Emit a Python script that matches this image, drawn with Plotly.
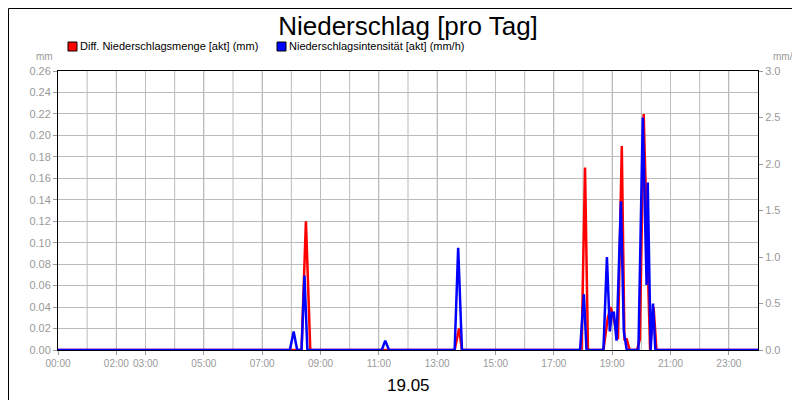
import plotly.graph_objects as go

# red series: Diff. Niederschlagsmenge (mm), hours of day
red_t = [0, 8.35, 8.5, 8.65, 13.6, 13.75, 13.85, 17.95, 18.07, 18.17, 18.7, 18.85, 18.95, 19.05,
         19.12, 19.2, 19.33, 19.42, 19.5, 19.6, 19.85, 19.95, 20.08, 20.3, 20.42, 20.52, 24]
red_v = [0, 0, 0.12, 0, 0, 0.02, 0, 0, 0.17, 0, 0, 0.03, 0.04, 0.03,
         0.02, 0.01, 0.19, 0.01, 0.01, 0, 0, 0.01, 0.22, 0, 0.04, 0, 0]
# blue series: Niederschlagsintensität (mm/h)
blue_t = [0, 7.95, 8.08, 8.2, 8.35, 8.45, 8.55, 11.1, 11.22, 11.35, 13.6, 13.72, 13.85, 17.9, 18.03,
          18.12, 18.7, 18.82, 18.92, 18.99, 19.06, 19.15, 19.3, 19.4, 19.5, 19.9, 20.05, 20.18,
          20.22, 20.32, 20.4, 20.48, 24]
blue_v = [0, 0, 0.2, 0, 0, 0.8, 0, 0, 0.1, 0, 0, 1.1, 0, 0, 0.6,
          0, 0, 1.0, 0.2, 0.4, 0.4, 0.1, 1.6, 0.2, 0, 0, 2.5, 0.7,
          1.8, 0, 0.5, 0, 0]

tick_hours = [0, 2, 3, 5, 7, 9, 11, 13, 15, 17, 19, 21, 23]
tick_text = ["%02d:00" % h for h in tick_hours]

grey = "#999999"
W, H = 700, 279  # plot area in px
fig = go.Figure()
fig.add_trace(go.Scatter(x=blue_t, y=blue_v, yaxis="y2", mode="lines",
                         line=dict(color="#0000ff", width=2.5)))
fig.add_trace(go.Scatter(x=red_t, y=red_v, mode="lines",
                         line=dict(color="#ff0000", width=2.5)))

fig.update_layout(
    width=800, height=400,
    paper_bgcolor="white", plot_bgcolor="white",
    margin=dict(l=50, r=50, t=63, b=58, autoexpand=False),
    font=dict(family="Liberation Sans, Arial", size=11, color=grey),
    title=dict(text="Niederschlag [pro Tag]", x=0.5, y=0.955, yanchor="middle",
               font=dict(size=26, color="black")),
    showlegend=False,
    xaxis=dict(range=[0, 24], tickvals=tick_hours, ticktext=tick_text, tickangle=0,
               tickfont=dict(size=10),
               showgrid=True, gridcolor="#bbbbbb",
               linecolor="black", mirror=True, showline=True, ticks="outside",
               ticklen=4, tickcolor=grey, zeroline=False),
    yaxis=dict(range=[0, 0.26], dtick=0.02, tickformat=".2f", showgrid=True,
               gridcolor="#bbbbbb", linecolor="black", showline=True, mirror=True,
               ticks="outside", ticklen=4, tickcolor=grey, zeroline=False),
    yaxis2=dict(range=[0, 3.0], dtick=0.5, tickformat=".1f", overlaying="y", side="right",
                showgrid=False, ticks="outside", ticklen=4, tickcolor=grey, zeroline=False),
    shapes=[
        dict(type="rect", xref="paper", yref="paper", x0=-49.5 / W, x1=1 + 49.5 / W,
             y0=-57.5 / H, y1=1 + 62.5 / H, line=dict(color="black", width=1)),
        dict(type="rect", xref="paper", yref="paper", x0=10 / W, x1=19 / W,
             y0=1 + 20 / H, y1=1 + 29 / H, fillcolor="#ff0000", line=dict(color="black", width=1)),
        dict(type="rect", xref="paper", yref="paper", x0=219 / W, x1=228 / W,
             y0=1 + 20 / H, y1=1 + 29 / H, fillcolor="#0000ff", line=dict(color="black", width=1)),
    ],
    annotations=[
        dict(text="19.05", x=0.5, y=-36 / H, xref="paper", yref="paper", showarrow=False,
             yanchor="middle", font=dict(size=17, color="black")),
        dict(text="mm", x=-3 / W, y=1 + 15 / H, xref="paper", yref="paper", showarrow=False,
             xanchor="right", yanchor="middle", font=dict(size=10, color=grey)),
        dict(text="mm/h", x=1 + 42 / W, y=1 + 15 / H, xref="paper", yref="paper", showarrow=False,
             xanchor="right", yanchor="middle", font=dict(size=10, color=grey)),
        dict(text="Diff. Niederschlagsmenge [akt] (mm)", x=20 / W, y=1 + 25 / H, xref="paper",
             yref="paper", showarrow=False, xanchor="left", yanchor="middle",
             font=dict(size=11, color="black")),
        dict(text="Niederschlagsintensität [akt] (mm/h)", x=229 / W, y=1 + 25 / H, xref="paper",
             yref="paper", showarrow=False, xanchor="left", yanchor="middle",
             font=dict(size=11, color="black")),
    ],
)
# vertical grid: hourly lines
for h in range(1, 24):
    fig.add_vline(x=h, line=dict(color="#bbbbbb", width=1), layer="below")

fig.write_html("out.html")
